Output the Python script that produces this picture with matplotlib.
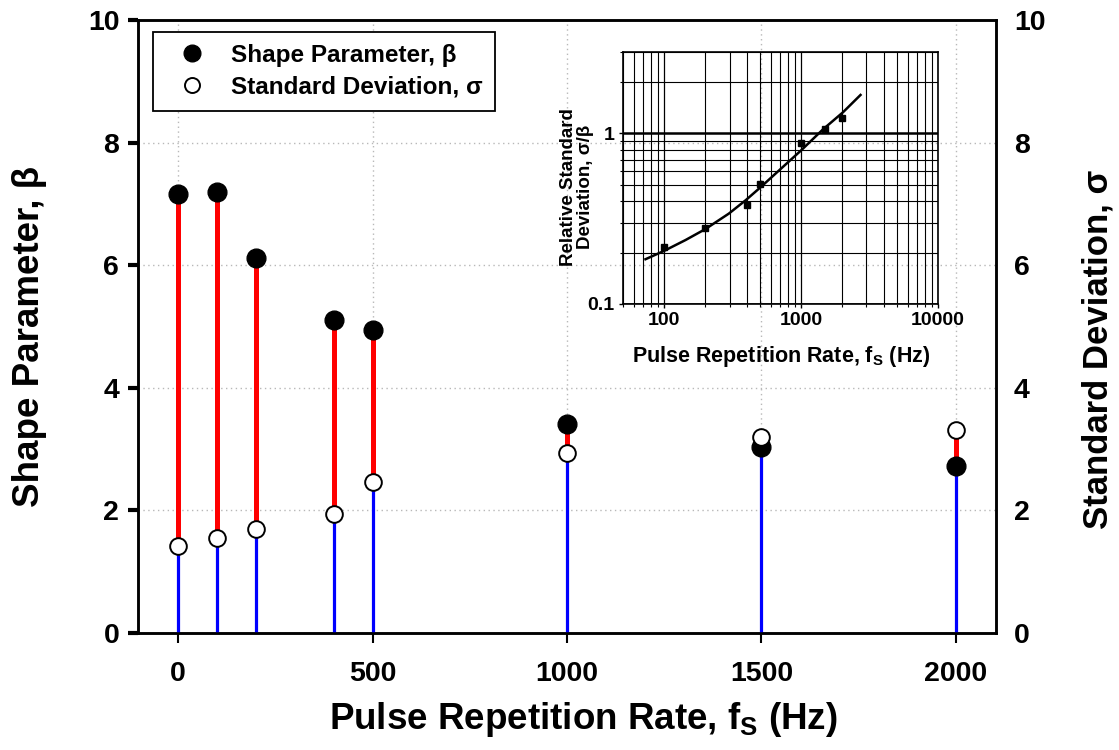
import matplotlib
matplotlib.use("Agg")
import matplotlib.pyplot as plt
from matplotlib.lines import Line2D
from matplotlib.ticker import LogLocator, NullFormatter, FixedLocator, FixedFormatter
import numpy as np

plt.rcParams['font.family'] = ['Liberation Sans', 'DejaVu Sans']
plt.rcParams['font.weight'] = 'bold'
plt.rcParams['mathtext.fontset'] = 'custom'
plt.rcParams['mathtext.rm'] = 'Liberation Sans:bold'
plt.rcParams['mathtext.bf'] = 'Liberation Sans:bold'
plt.rcParams['mathtext.it'] = 'Liberation Sans:bold'

# ---- data ----
rate_hz = [0, 100, 200, 400, 500, 1000, 1500, 2000]
beta = [7.16, 7.19, 6.11, 5.10, 4.95, 3.41, 3.03, 2.73]
sigma = [1.42, 1.55, 1.69, 1.94, 2.47, 2.94, 3.19, 3.31]

inset_rate = [100, 200, 400, 500, 1000, 1500, 2000]
inset_ratio = [0.216, 0.279, 0.383, 0.503, 0.874, 1.065, 1.235]

fit_rate = [73, 100, 143, 200, 297, 394, 508, 692, 1000, 1443, 2023, 2716]
fit_ratio = [0.183, 0.205, 0.237, 0.275, 0.339, 0.406, 0.485, 0.608, 0.795, 1.055, 1.33, 1.68]

x_ticks = [0, 500, 1000, 1500, 2000]
y_ticks = [0, 2, 4, 6, 8, 10]

W, H = 1119, 750
fig = plt.figure(figsize=(W / 100, H / 100), dpi=100)

def px_axes(l, r, t, b):
    return [l / W, 1 - b / H, (r - l) / W, (b - t) / H]

ax = fig.add_axes(px_axes(138, 996, 20, 633))
ax.set_xlim(-103, 2103)
ax.set_ylim(0, 10)
ax.set_xticks(x_ticks)
ax.set_yticks(y_ticks)
ax.grid(True, color='#b8b8b8', linestyle=(0, (1, 2.5)), linewidth=1.0)
ax.set_axisbelow(True)

lo = np.minimum(beta, sigma)
hi = np.maximum(beta, sigma)
ax.vlines(rate_hz, 0, lo, colors='#0000ff', linewidth=2.3, zorder=3)
ax.vlines(rate_hz, lo, hi, colors='#ff0000', linewidth=3.6, zorder=3)
ax.plot(rate_hz, beta, 'o', color='black', markersize=13.5, zorder=5, clip_on=False)
ax.plot(rate_hz, sigma, 'o', markerfacecolor='white', markeredgecolor='black',
        markeredgewidth=1.4, markersize=12, zorder=6, clip_on=False)

for s in ax.spines.values():
    s.set_linewidth(1.8)
ax.tick_params(axis='y', which='major', direction='out', length=7.5, width=3,
               labelsize=20.5, pad=6)
ax.tick_params(axis='x', which='major', direction='out', length=7, width=1.5,
               labelsize=20.5, pad=13)

ax.set_xlabel('Pulse Repetition Rate, f$_{\\mathbf{S}}$ (Hz)', fontsize=26.5, fontweight='bold')
ax.xaxis.label.set_va('baseline')
ax.xaxis.set_label_coords(0.519, (633 - 729) / 613)
ax.set_ylabel('Shape Parameter, \u03b2', fontsize=26.5, fontweight='bold')
ax.yaxis.label.set_va('center')
ax.yaxis.set_label_coords((29.5 - 138) / 858, 0.484)

ax2 = ax.twinx()
ax2.set_ylim(0, 10)
ax2.set_yticks(y_ticks)
ax2.tick_params(axis='y', length=0, labelsize=20.5, pad=13)
ax2.set_ylabel('Standard Deviation, \u03c3', fontsize=25, fontweight='bold')
ax2.yaxis.label.set_va('center')
ax2.yaxis.set_label_coords((1098.5 - 138) / 858, 0.463)
for s in ax2.spines.values():
    s.set_linewidth(1.8)

handles = [
    Line2D([], [], linestyle='none', marker='o', color='black', markersize=12),
    Line2D([], [], linestyle='none', marker='o', markerfacecolor='white',
           markeredgecolor='black', markeredgewidth=1.4, markersize=10.8),
]
leg = ax.legend(handles, ['Shape Parameter, \u03b2', 'Standard Deviation, \u03c3'],
                loc='upper left', bbox_to_anchor=(15 / 858, 1 - 11.7 / 613),
                fontsize=17.5, frameon=True, fancybox=False, edgecolor='black',
                framealpha=1, borderpad=0.5, handlelength=2.2, handletextpad=0.5,
                labelspacing=0.35, borderaxespad=0)
leg.get_frame().set_linewidth(1.3)
leg.set_zorder(10)

# ---- inset ----
ins = fig.add_axes(px_axes(623, 938, 52, 304))
ins.patch.set_alpha(0)
ins.set_xscale('log')
ins.set_yscale('log')
ins.set_xlim(50, 10000)
ins.set_ylim(0.1, 3)
ins.xaxis.set_major_locator(FixedLocator([100, 1000, 10000]))
ins.xaxis.set_major_formatter(FixedFormatter(['100', '1000', '10000']))
ins.xaxis.set_minor_locator(LogLocator(base=10, subs=np.arange(2, 10)))
ins.xaxis.set_minor_formatter(NullFormatter())
ins.yaxis.set_major_locator(FixedLocator([0.1, 1]))
ins.yaxis.set_major_formatter(FixedFormatter(['0.1', '1']))
ins.yaxis.set_minor_locator(LogLocator(base=10, subs=np.arange(2, 10)))
ins.yaxis.set_minor_formatter(NullFormatter())
ins.grid(True, which='minor', color='black', linewidth=0.8)
ins.grid(True, which='major', axis='x', color='black', linewidth=0.9)
ins.grid(True, which='major', axis='y', color='black', linewidth=1.8)
for s in ins.spines.values():
    s.set_linewidth(1.2)
ins.tick_params(which='major', direction='out', length=3, width=1, labelsize=14, pad=3)
ins.tick_params(which='minor', direction='out', length=2, width=0.8)
ins.plot(fit_rate, fit_ratio, '-', color='black', linewidth=1.8, zorder=4)
ins.plot(inset_rate, inset_ratio, 's', color='black', markersize=5, zorder=5)
ins.set_xlabel('Pulse Repetition Rate, f$_{\\mathbf{S}}$ (Hz)', fontsize=15.5,
               fontweight='bold')
ins.xaxis.label.set_va('baseline')
ins.xaxis.set_label_coords(0.502, (304 - 361.7) / 252)
ins.set_ylabel('Relative Standard\nDeviation, \u03c3/\u03b2', fontsize=13.5,
               fontweight='bold', linespacing=1.0)
ins.yaxis.label.set_va('center')
ins.yaxis.set_label_coords((577 - 623) / 315, 0.466)

fig.savefig('out.png', dpi=100)
